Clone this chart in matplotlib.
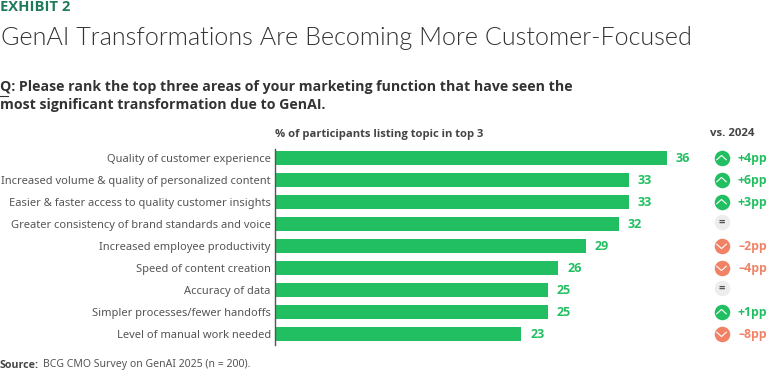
import matplotlib
matplotlib.use("Agg")
import matplotlib.pyplot as plt
from matplotlib.path import Path

categories = ["Quality of customer experience",
              "Increased volume & quality of personalized content",
              "Easier & faster access to quality customer insights",
              "Greater consistency of brand standards and voice",
              "Increased employee productivity",
              "Speed of content creation",
              "Accuracy of data",
              "Simpler processes/fewer handoffs",
              "Level of manual work needed"]
values = [36, 33, 33, 32, 29, 26, 25, 25, 23]
bar_widths = [36, 32.5, 32.5, 31.6, 28.55, 26, 25.07, 25.07, 22.6]
changes = [4, 6, 3, 0, -2, -4, 0, 1, -8]

GREEN = "#21BF61"
RED = "#F08266"
W, H = 768, 372
BOLD = ["Open Sans", "DejaVu Sans"]
plt.rcParams["font.family"] = ["Noto Sans", "DejaVu Sans"]

fig = plt.figure(figsize=(W / 100, H / 100), dpi=100)
ax = fig.add_axes([275 / W, (H - 345) / H, (W - 275) / W, 196 / H])
ax.set_xlim(0, (W - 275) / 10.89)
ax.set_ylim(8.5, -0.41)
y = list(range(len(categories)))
ax.barh(y, bar_widths, height=0.68, color=GREEN)
for s in ["top", "right", "bottom"]:
    ax.spines[s].set_visible(False)
ax.spines["left"].set_color("#555555")
ax.spines["left"].set_linewidth(1)
ax.set_xticks([])
ax.set_yticks(y, categories, fontsize=8.0, color="#555555")
ax.tick_params(axis="y", length=0, pad=3)

chev_up = Path([(-0.6, -0.25), (0, 0.3), (0.6, -0.25)], [1, 2, 2])
chev_down = Path([(-0.6, 0.25), (0, -0.3), (0.6, 0.25)], [1, 2, 2])
ICON_X = (721.5 - 275) / 10.89
LABEL_X = (737.5 - 275) / 10.89
for i, (bw, v, c) in enumerate(zip(bar_widths, values, changes)):
    ax.text(bw + 0.82, i + 0.03, str(v), color=GREEN, fontsize=9, fontweight="bold",
            va="center", ha="left", family=BOLD)
    if c == 0:
        ax.scatter([ICON_X], [i - 0.08], s=125, color="#EDEDED", linewidths=0, zorder=3, clip_on=False)
        ax.text(ICON_X, i - 0.08, "=", color="#555555", fontsize=8, fontweight="bold",
                ha="center", va="center", zorder=4, family=BOLD)
    else:
        col = GREEN if c > 0 else RED
        ax.scatter([ICON_X], [i], s=125, color=col, linewidths=0, zorder=3, clip_on=False)
        ax.scatter([ICON_X], [i], s=55, marker=chev_up if c > 0 else chev_down,
                   facecolors="none", edgecolors="white", linewidths=0.8, zorder=4, clip_on=False)
        label = f"+{c}pp" if c > 0 else f"\u2013{-c}pp"
        ax.text(LABEL_X if c > 0 else LABEL_X + 0.1, i, label, color=col, fontsize=8.8,
                fontweight="bold", va="center", ha="left", family=BOLD)


def txt(px, py, s, **kw):
    fig.text(px / W, (H - py) / H, s, va="center", **kw)


txt(0, 7, "EXHIBIT 2", color="#1F7A5C", fontsize=10.6, fontweight="bold", family=BOLD)
txt(1, 38, "GenAI Transformations Are Becoming More Customer-Focused", color="#333333",
    fontsize=18.1, family=["Lato", "DejaVu Sans"], fontweight=300)
txt(0, 87.5, "Q: Please rank the top three areas of your marketing function that have seen the",
    color="#333333", fontsize=10.13, fontweight="bold", family=BOLD)
txt(0, 105.5, "most significant transformation due to GenAI.", color="#333333", fontsize=10.13,
    fontweight="bold", family=BOLD)
txt(275, 134, "% of participants listing topic in top 3", color="#444444", fontsize=8.1,
    fontweight="bold", family=BOLD)
txt(710, 134, "vs. 2024", color="#444444", fontsize=8.2, fontweight="bold", family=BOLD)
fig.text(0, (H - 365) / H, "Source:", color="#444444", fontsize=7.7, fontweight="bold",
         va="center", family=BOLD)
txt(43, 365, "BCG CMO Survey on GenAI 2025 (n = 200).", color="#555555", fontsize=7.55)
fig.add_artist(plt.Line2D([0, 7.5 / W], [(H - 95.5) / H] * 2, color="#333333", lw=0.8))
fig.savefig("out.png", dpi=100)
